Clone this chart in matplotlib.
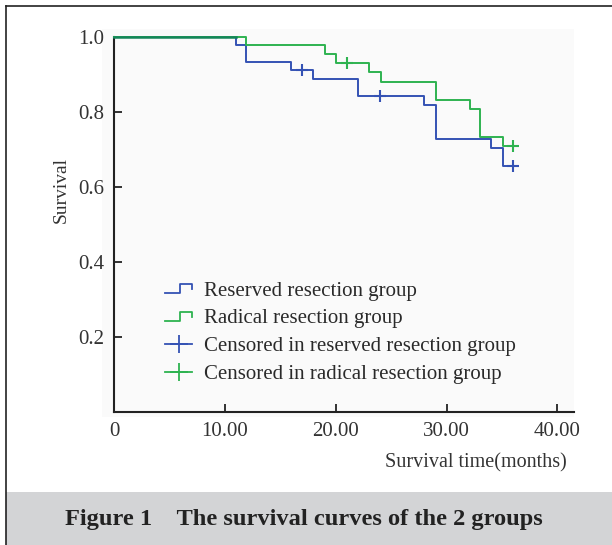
import matplotlib
matplotlib.use("Agg")
import matplotlib.pyplot as plt
from matplotlib.lines import Line2D
from matplotlib.legend_handler import HandlerBase
from matplotlib.patches import Rectangle

plt.rcParams['font.family'] = ['Liberation Serif', 'DejaVu Serif']

# Kaplan-Meier steps: (time of drop, survival after it)
reserved_t = [0, 11.0, 11.9, 16.0, 17.95, 22.0, 28.0, 29.05, 34.0, 35.1]
reserved_s = [1.0, 0.979, 0.934, 0.912, 0.889, 0.843, 0.819, 0.728, 0.705, 0.657]
reserved_end = 36.0
reserved_cens_t = [17.0, 24.0, 36.0]

radical_t = [0, 11.9, 19.0, 20.05, 23.0, 24.1, 29.05, 32.1, 33.0, 35.1]
radical_s = [1.0, 0.979, 0.954, 0.930, 0.906, 0.881, 0.832, 0.807, 0.734, 0.709]
radical_end = 36.0
radical_cens_t = [21.0, 36.0]

xticks = [0, 10, 20, 30, 40]
xticklabels = ["0", "10.00", "20.00", "30.00", "40.00"]
yticks = [0.2, 0.4, 0.6, 0.8, 1.0]

legend_labels = ["Reserved resection group", "Radical resection group",
                 "Censored in reserved resection group", "Censored in radical resection group"]

blue = "#3452b4"
green = "#2eb350"


def surv_at(ts, ss, t):
    v = ss[0]
    for a, b in zip(ts, ss):
        if a <= t:
            v = b
    return v


class StepHandler(HandlerBase):
    def create_artists(self, legend, orig_handle, xdescent, ydescent, width, height, fontsize, trans):
        x0, x1 = -xdescent, -xdescent + width
        ylo, yhi = -ydescent + 0.15 * height, -ydescent + 0.8 * height
        xm = x0 + 0.55 * width
        ln = Line2D([x0, xm, xm, x1, x1], [ylo, ylo, yhi, yhi, (ylo + yhi) / 2],
                    color=orig_handle.get_color(), lw=1.3, transform=trans)
        return [ln]


fig = plt.figure(figsize=(6.12, 5.45), dpi=100)

# page decorations: frame and caption band
fig.patches.append(Rectangle((102 / 612, 1 - 417 / 545), (574 - 102) / 612, (417 - 29) / 545,
                             transform=fig.transFigure, facecolor="#fafafa", edgecolor="none", zorder=0))
fig.patches.append(Rectangle((6 / 612, 0), 1, (545 - 492) / 545,
                             transform=fig.transFigure, facecolor="#d3d4d6", edgecolor="none", zorder=0))
fig.lines.append(Line2D([6 / 612, 6 / 612], [0, 1 - 6 / 545], transform=fig.transFigure, color="#222222", lw=1.2))
fig.lines.append(Line2D([6 / 612, 1], [1 - 6 / 545, 1 - 6 / 545], transform=fig.transFigure, color="#222222", lw=1.2))

ax = fig.add_axes([114 / 612, 1 - 412 / 545, (574 - 114) / 612, (412 - 37) / 545])
ax.set_zorder(2)
ax.patch.set_alpha(0)

rx = reserved_t + [reserved_end]
ry = reserved_s + [reserved_s[-1]]
gx = radical_t + [radical_end]
gy = radical_s + [radical_s[-1]]

ax.step(rx, ry, where="post", color=blue, lw=1.4, clip_on=False, zorder=3)
ax.step(gx, gy, where="post", color=green, lw=1.4, clip_on=False, zorder=3)
# overlap on top segment looks darker
ax.plot([0, 11.0], [1.0, 1.0], color="#14855a", lw=1.8, clip_on=False, zorder=4)

ax.plot(reserved_cens_t, [surv_at(reserved_t, reserved_s, t) for t in reserved_cens_t],
        ls="none", marker="+", ms=8, mew=1.5, color=blue, clip_on=False, zorder=5)
ax.plot(radical_cens_t, [surv_at(radical_t, radical_s, t) for t in radical_cens_t],
        ls="none", marker="+", ms=8, mew=1.5, color=green, clip_on=False, zorder=5)

ax.set_xlim(0, 41.5)
ax.set_ylim(0, 1.0)
ax.set_xticks(xticks)
ax.set_xticklabels(xticklabels)
ax.set_yticks(yticks)
ax.set_yticklabels(["%.1f" % v for v in yticks])

for s in ["top", "right"]:
    ax.spines[s].set_visible(False)
for s in ["left", "bottom"]:
    ax.spines[s].set_linewidth(1.5)
    ax.spines[s].set_color("#222222")

ax.tick_params(direction="in", length=6, width=1.3, color="#222222", labelsize=15, labelcolor="#333333")
ax.tick_params(axis="x", pad=7)
ax.tick_params(axis="y", pad=7)

ax.set_ylabel("Survival", fontsize=14, color="#333333")
ax.yaxis.set_label_coords((70 - 114) / 460, (412 - 190) / 375)
fig.text(567 / 612, 1 - 463 / 545, "Survival time(months)", ha="right", va="center", fontsize=14.5, color="#333333")

handles = [Line2D([], [], color=blue), Line2D([], [], color=green),
           Line2D([], [], color=blue, marker="+", ms=13, mew=1.3, lw=1.3),
           Line2D([], [], color=green, marker="+", ms=13, mew=1.3, lw=1.3)]
hmap = {handles[0]: StepHandler(), handles[1]: StepHandler()}
leg = ax.legend(handles, legend_labels, handler_map=hmap, loc="upper left",
                bbox_to_anchor=((165 - 114) / (574 - 114), (412 - 281) / (412 - 37)),
                frameon=False, fontsize=15, handlelength=1.3, handletextpad=0.55,
                labelspacing=0.4, borderpad=0, borderaxespad=0)
for t in leg.get_texts():
    t.set_color("#2a2a2a")

fig.text(304 / 612, 1 - 520 / 545, "Figure 1\u2003The survival curves of the 2 groups",
         ha="center", va="center", fontsize=17.6, fontweight="bold", color="#222222")

fig.savefig("out.png", dpi=100)
